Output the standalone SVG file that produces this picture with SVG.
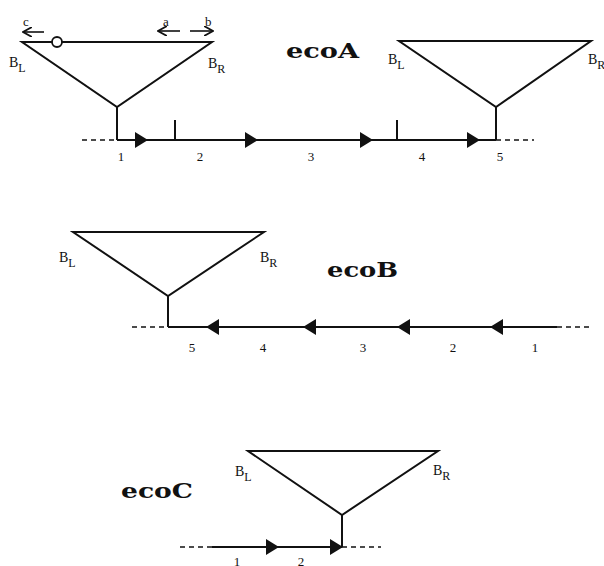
<svg xmlns="http://www.w3.org/2000/svg" width="604" height="566" viewBox="0 0 604 566">
<style>
.ln{stroke:#111;stroke-width:2;fill:none;stroke-linejoin:miter}
.thin{stroke:#111;stroke-width:1.6;fill:none}
.dash{stroke:#111;stroke-width:1.6;fill:none;stroke-dasharray:5,4}
.ah{fill:#111}
.lab{font-family:"Liberation Serif","DejaVu Serif",serif;font-size:13px;fill:#111}
.b{font-family:"Liberation Serif","DejaVu Serif",serif;font-size:14px;fill:#111}
.sub{font-size:12px}
.title{font-family:"DejaVu Serif","Liberation Serif",serif;font-weight:bold;font-size:21px;fill:#111}
</style>
<defs>
<path id="ar" d="M-13,-8 L0,0 L-13,8 Z"/>
<marker id="sm" markerWidth="10" markerHeight="10" refX="8" refY="5" orient="auto" markerUnits="userSpaceOnUse"><path d="M0,0 L9,5 L0,10" fill="none" stroke="#111" stroke-width="1.8"/></marker>
</defs>
<rect width="604" height="566" fill="#fff"/>

<g id="ecoA-left">
<path class="ln" d="M22,42 L212,42 L117,107 Z M117,107 L117,140"/>
<circle cx="57" cy="42" r="5" fill="#fff" stroke="#111" stroke-width="1.8"/>
<text class="b" x="9" y="67">B<tspan class="sub" dy="5">L</tspan></text>
<text class="b" x="208" y="68">B<tspan class="sub" dy="5">R</tspan></text>
<text class="lab" x="23" y="26">c</text>
<text class="lab" x="163" y="26">a</text>
<text class="lab" x="205" y="26">b</text>
<line class="thin" x1="44" y1="32" x2="24" y2="32" marker-end="url(#sm)"/>
<line class="thin" x1="180" y1="31" x2="159" y2="31" marker-end="url(#sm)"/>
<line class="thin" x1="190" y1="31" x2="212" y2="31" marker-end="url(#sm)"/>
</g>

<g id="ecoA-right">
<path class="ln" d="M399,41 L591,41 L496,107 Z M496,107 L496,140"/>
<text class="b" x="388" y="64">B<tspan class="sub" dy="5">L</tspan></text>
<text class="b" x="588" y="64">B<tspan class="sub" dy="5">R</tspan></text>
</g>
<text class="title" x="286" y="58" textLength="73" lengthAdjust="spacingAndGlyphs">ecoA</text>

<g id="ecoB-node">
<path class="ln" d="M73,232 L264,232 L168,296 Z M168,296 L168,327"/>
<text class="b" x="59" y="262">B<tspan class="sub" dy="5">L</tspan></text>
<text class="b" x="260" y="262">B<tspan class="sub" dy="5">R</tspan></text>
</g>
<text class="title" x="327" y="277" textLength="71" lengthAdjust="spacingAndGlyphs">ecoB</text>

<g id="ecoC-node">
<path class="ln" d="M248,451 L438,451 L342,515 Z M342,515 L342,547"/>
<text class="b" x="235" y="476">B<tspan class="sub" dy="5">L</tspan></text>
<text class="b" x="433" y="475">B<tspan class="sub" dy="5">R</tspan></text>
</g>
<text class="title" x="121" y="498" textLength="72" lengthAdjust="spacingAndGlyphs">ecoC</text>

<g id="connectors">
<line class="dash" x1="82" y1="140" x2="117" y2="140"/>
<line class="ln" x1="117" y1="140" x2="496" y2="140"/>
<line class="dash" x1="496" y1="140" x2="534" y2="140"/>
<line class="ln" x1="175" y1="120" x2="175" y2="140"/>
<line class="ln" x1="397" y1="120" x2="397" y2="140"/>
<use href="#ar" class="ah" transform="translate(148,140)"/>
<use href="#ar" class="ah" transform="translate(258,140)"/>
<use href="#ar" class="ah" transform="translate(373,140)"/>
<use href="#ar" class="ah" transform="translate(480,140)"/>

<line class="dash" x1="132" y1="327" x2="168" y2="327"/>
<line class="ln" x1="168" y1="327" x2="557" y2="327"/>
<line class="dash" x1="557" y1="327" x2="591" y2="327"/>
<use href="#ar" class="ah" transform="translate(206,327) scale(-1,1)"/>
<use href="#ar" class="ah" transform="translate(303,327) scale(-1,1)"/>
<use href="#ar" class="ah" transform="translate(397,327) scale(-1,1)"/>
<use href="#ar" class="ah" transform="translate(490,327) scale(-1,1)"/>

<line class="dash" x1="180" y1="547" x2="212" y2="547"/>
<line class="ln" x1="212" y1="547" x2="342" y2="547"/>
<line class="dash" x1="342" y1="547" x2="381" y2="547"/>
<use href="#ar" class="ah" transform="translate(279,547)"/>
<use href="#ar" class="ah" transform="translate(343,547)"/>
</g>

<g id="labels">
<text class="lab" x="121" y="161" text-anchor="middle">1</text>
<text class="lab" x="200" y="161" text-anchor="middle">2</text>
<text class="lab" x="311" y="161" text-anchor="middle">3</text>
<text class="lab" x="422" y="161" text-anchor="middle">4</text>
<text class="lab" x="500" y="161" text-anchor="middle">5</text>
<text class="lab" x="192" y="352" text-anchor="middle">5</text>
<text class="lab" x="263" y="352" text-anchor="middle">4</text>
<text class="lab" x="363" y="352" text-anchor="middle">3</text>
<text class="lab" x="453" y="352" text-anchor="middle">2</text>
<text class="lab" x="535" y="352" text-anchor="middle">1</text>
<text class="lab" x="237" y="566" text-anchor="middle">1</text>
<text class="lab" x="301" y="566" text-anchor="middle">2</text>
</g>
</svg>
